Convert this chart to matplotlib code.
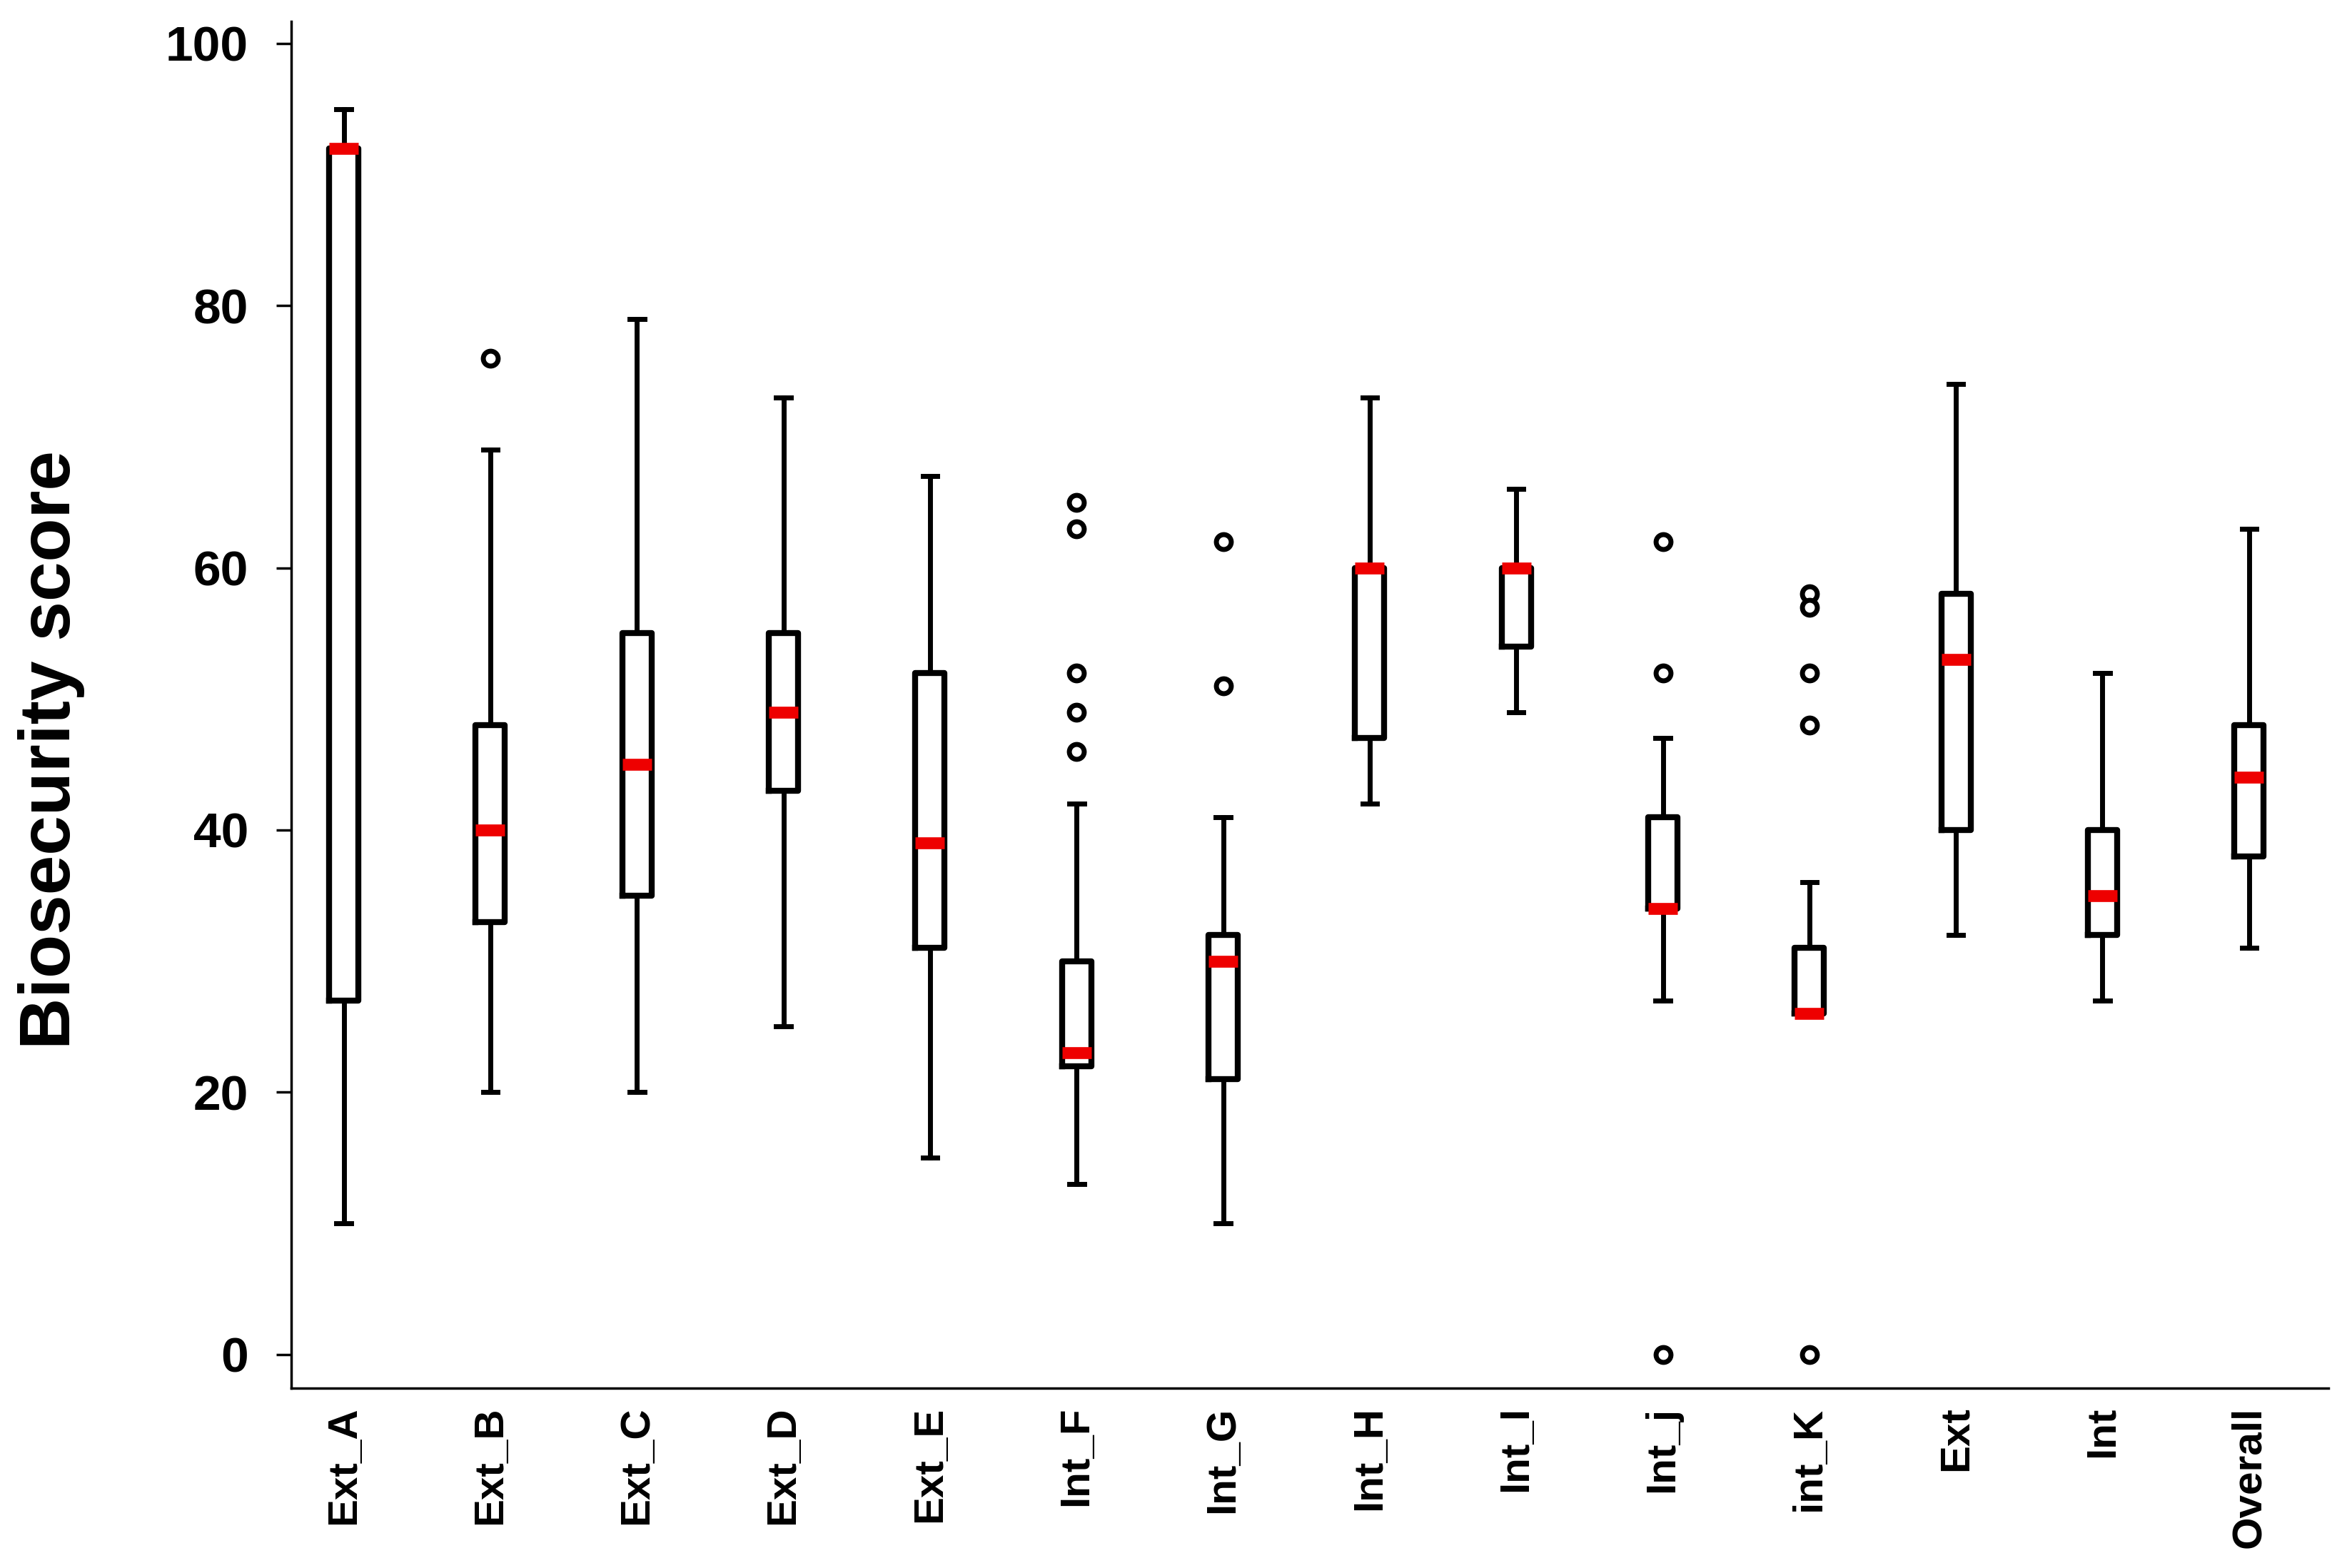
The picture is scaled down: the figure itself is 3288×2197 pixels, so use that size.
import matplotlib.pyplot as plt
import numpy as np

plt.rcParams['font.family'] = ['Liberation Sans', 'DejaVu Sans']
plt.rcParams['font.weight'] = 'bold'

# groups and box statistics
groups = ["Ext_A", "Ext_B", "Ext_C", "Ext_D", "Ext_E", "Int_F", "Int_G",
          "Int_H", "Int_I", "Int_j", "int_K", "Ext", "Int", "Overall"]
whis_lo = [10, 20, 20, 25, 15, 13, 10, 42, 49, 27, 26, 32, 27, 31]
q1 = [27, 33, 35, 43, 31, 22, 21, 47, 54, 34, 26, 40, 32, 38]
medians = [92, 40, 45, 49, 39, 23, 30, 60, 60, 34, 26, 53, 35, 44]
q3 = [92, 48, 55, 55, 52, 30, 32, 60, 60, 41, 31, 58, 40, 48]
whis_hi = [95, 69, 79, 73, 67, 42, 41, 73, 66, 47, 36, 74, 52, 63]
outliers = [[], [76], [], [], [], [65, 63, 52, 49, 46], [62, 51],
            [], [], [62, 52, 0], [58, 57, 52, 48, 0], [], [], []]
yticks = [0, 20, 40, 60, 80, 100]

stats = []
for i, g in enumerate(groups):
    stats.append({
        "label": g, "med": medians[i], "q1": q1[i], "q3": q3[i],
        "whislo": whis_lo[i], "whishi": whis_hi[i], "fliers": outliers[i],
    })

fig = plt.figure(figsize=(32.88, 21.97), dpi=100)
ax = fig.add_axes([0.124, 0.1145, 0.868, 0.872])

positions = np.arange(1, len(groups) + 1)
ax.bxp(
    stats, positions=positions, widths=0.2, showfliers=True,
    boxprops=dict(color="black", linewidth=6),
    whiskerprops=dict(color="black", linewidth=5),
    capprops=dict(color="black", linewidth=5),
    capwidths=0.1,
    medianprops=dict(color="#ee0000", linewidth=12, solid_capstyle="butt"),
    flierprops=dict(marker="o", markersize=15, markerfacecolor="white",
                    markeredgecolor="black", markeredgewidth=5),
)

ax.set_xlim(0.64, 14.54)
ax.set_ylim(-2.6, 101.7)
ax.set_yticks(yticks)
ax.set_yticklabels([str(t) for t in yticks], fontsize=50, fontweight="bold")
ax.set_xticks(positions)
ax.set_xticklabels(groups, rotation=90, fontsize=42, fontweight="bold",
                   va="top", ha="center")
ax.tick_params(axis="y", length=15, width=2.5, pad=28)
ax.tick_params(axis="x", length=0, pad=18)
ax.set_ylabel("Biosecurity score", fontsize=72, fontweight="bold")
ax.yaxis.set_label_coords(-0.101, 0.467)

for s in ["top", "right"]:
    ax.spines[s].set_visible(False)
for s in ["left", "bottom"]:
    ax.spines[s].set_linewidth(2.5)

fig.savefig("out.png", dpi=100)
